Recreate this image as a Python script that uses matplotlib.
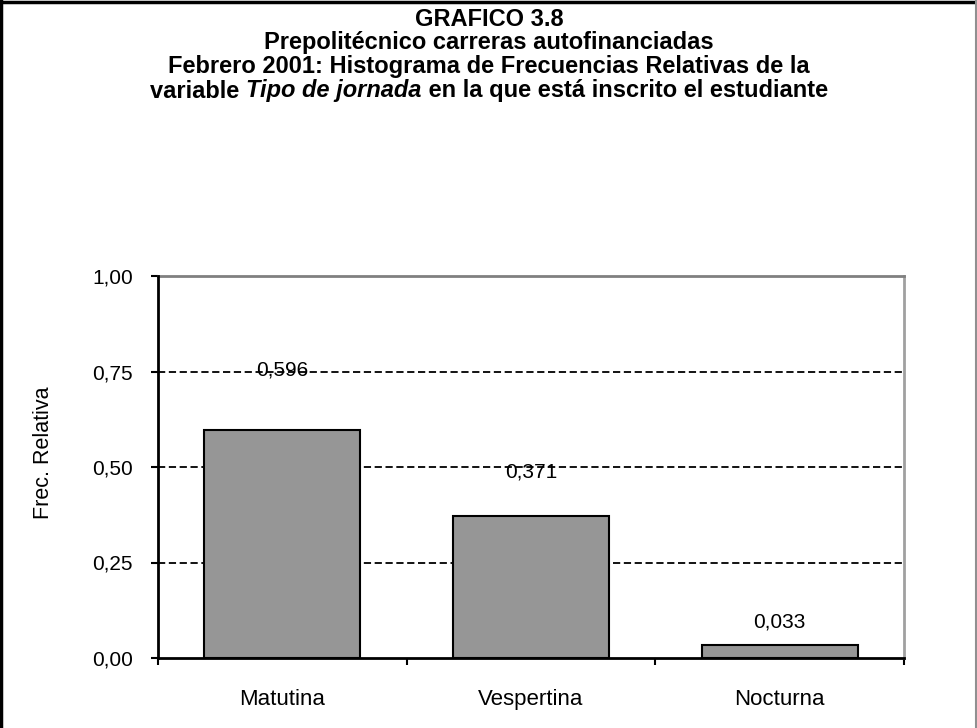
import matplotlib
matplotlib.use("Agg")
import matplotlib.pyplot as plt
from matplotlib.lines import Line2D
import numpy as np

categories = ["Matutina", "Vespertina", "Nocturna"]
values = [0.596, 0.371, 0.033]
value_labels = ["0,596", "0,371", "0,033"]
yticks = [0.0, 0.25, 0.5, 0.75, 1.0]
ytick_labels = ["0,00", "0,25", "0,50", "0,75", "1,00"]
label_offsets_px = [60, 44, 23]

plt.rcParams['font.family'] = ['Liberation Sans', 'DejaVu Sans']

fig = plt.figure(figsize=(9.78, 7.28), dpi=100)
ax = fig.add_axes([158/978, 1-658/728, (904-158)/978, (658-276)/728])

x = np.arange(len(categories))
ax.bar(x, values, width=0.627, color="#969696", edgecolor="black", linewidth=1.5, zorder=3)

for xi, v, lab, off in zip(x, values, value_labels, label_offsets_px):
    ax.annotate(lab, (xi, v), xytext=(0, off*72/100), textcoords="offset points",
                ha="center", va="center", fontsize=15, zorder=4)

ax.set_xlim(-0.5, 2.5)
ax.set_ylim(0, 1.0)
ax.set_yticks(yticks)
ax.set_yticklabels(ytick_labels, fontsize=15)
ax.set_xticks(x)
ax.set_xticklabels(categories, fontsize=16)
ax.set_xticks(np.arange(-0.5, 2.6, 1.0), minor=True)
ax.tick_params(axis="x", which="major", length=0, pad=22)
ax.tick_params(axis="x", which="minor", length=5, width=1.5, direction="out")
ax.tick_params(axis="y", which="major", length=5, width=1.5, direction="out", pad=13)

for yv in yticks[1:-1]:
    ax.axhline(yv, color="black", linestyle=(0, (4, 2)), linewidth=1.3, zorder=1)

ax.spines["left"].set_linewidth(2)
ax.spines["bottom"].set_linewidth(2)
ax.spines["left"].set_color("black")
ax.spines["bottom"].set_color("black")
ax.spines["top"].set_color("#808080")
ax.spines["top"].set_linewidth(2)
ax.spines["right"].set_color("#a0a0a0")
ax.spines["right"].set_linewidth(2)
ax.spines["left"].set_zorder(5)
ax.spines["bottom"].set_zorder(5)

ax.set_ylabel("Frec. Relativa", fontsize=15.5)
ax.yaxis.set_label_coords((54-158)/746, (658-453)/382)

title_lines = [
    r"GRAFICO 3.8",
    r"Prepolitécnico carreras autofinanciadas",
    r"Febrero 2001: Histograma de Frecuencias Relativas de la",
]
ys = [19, 43, 67]
tsize = 17
for t, yp in zip(title_lines, ys):
    fig.text(0.5, 1-yp/728, t, ha="center", va="center", fontsize=tsize, fontweight="bold")

parts = [("variable ", "normal"), ("Tipo de jornada", "italic"), (" en la que está inscrito el estudiante", "normal")]
fig.canvas.draw()
renderer = fig.canvas.get_renderer()
texts = []
widths = []
for s, st in parts:
    t = fig.text(0, 1-91/728, s, ha="left", va="center", fontsize=tsize, fontweight="bold", style=st)
    bb = t.get_window_extent(renderer)
    texts.append(t)
    widths.append(bb.width)
total = sum(widths)
cur = (978 - total) / 2
for t, w in zip(texts, widths):
    t.set_x(cur/978)
    cur += w

# Figure border: left & top black, right gray
fig.add_artist(Line2D([1.5/978, 1.5/978], [0, 1], transform=fig.transFigure, color="black", linewidth=2.5))
fig.add_artist(Line2D([0, 1], [1-1.5/728, 1-1.5/728], transform=fig.transFigure, color="black", linewidth=2.5))
fig.add_artist(Line2D([1-1.5/978, 1-1.5/978], [0, 1], transform=fig.transFigure, color="#909090", linewidth=1.5))

fig.savefig("out.png", dpi=100)
